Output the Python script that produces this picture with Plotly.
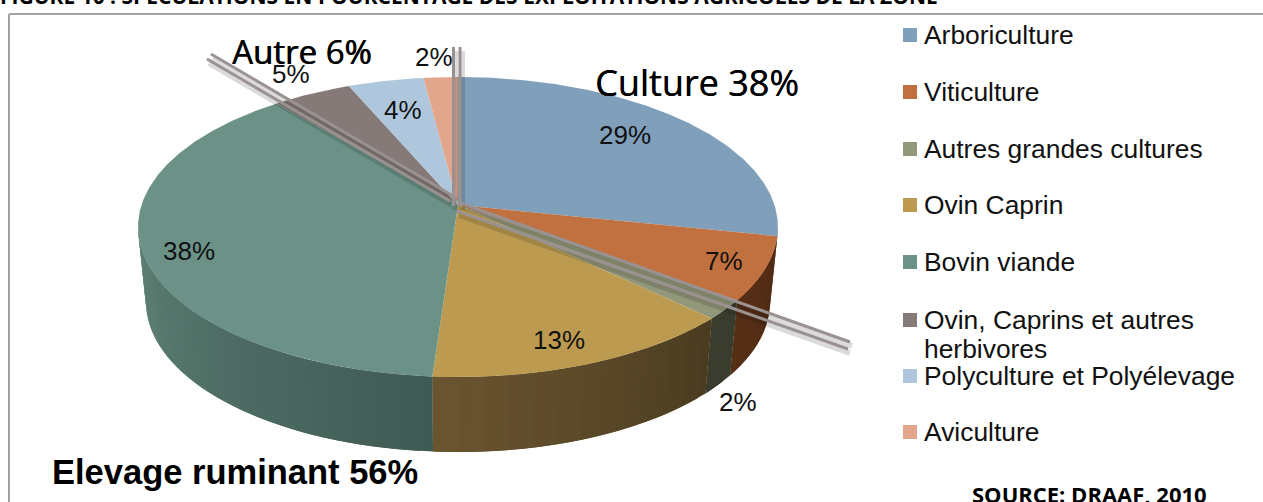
import numpy as np
import plotly.graph_objects as go

# ---- data ----
categories = ["Arboriculture", "Viticulture", "Autres grandes cultures", "Ovin Caprin",
              "Bovin viande", "Ovin, Caprins et autres<br>herbivores",
              "Polyculture et Polyélevage", "Aviculture"]
values = [28.3, 6.8, 2.1, 13.9, 37.9, 4.6, 4.4, 2.0]
value_labels = ["29%", "7%", "2%", "13%", "38%", "5%", "4%", "2%"]
top_colors = ["#7f9fbb", "#c1703f", "#92987a", "#bc9b50", "#6c9288", "#857a77", "#afc7dd", "#e2a68d"]
side_from = ["#4f2b14", "#4f2b14", "#3a3d2e", "#4a3c20", "#3f5a54", "#5c7d73", "#5c7d73", "#5c7d73"]
side_to = ["#4f2b14", "#572f15", "#3a3d2e", "#6b5530", "#5f8277", "#5c7d73", "#5c7d73", "#5c7d73"]

# ---- layout constants (pixels of the page) ----
W, H = 1263, 502
X0, Y0, A, B, K = 458.0, 205.0, 316.5, 146.8, 0.147
DEPTH, BOTTOM_SCALE = 75.0, 0.975
TANGENT = np.degrees(np.arccos(-K))
label_pos = [(625, 135), (724, 261), (738, 402), (559, 340), (189, 251), (291, 74), (403, 110), (434, 57)]
legend_y = [35, 92, 149, 205, 262, 320, 376, 432]
SANS = "Liberation Sans"
HUMAN = "Open Sans"


def project(theta_deg):
    t = np.radians(np.asarray(theta_deg, dtype=float))
    s = 1.0 / (1.0 + K * np.cos(t))
    return X0 + A * np.sin(t) * s, Y0 - B * np.cos(t) * s


def mix(c1, c2, f):
    a = [int(c1[i:i + 2], 16) for i in (1, 3, 5)]
    b = [int(c2[i:i + 2], 16) for i in (1, 3, 5)]
    return "#" + "".join(f"{round(p + (q - p) * f):02x}" for p, q in zip(a, b))


edges = np.concatenate([[0.0], np.cumsum(values)]) * 360.0 / sum(values)

fig = go.Figure()


def poly(x, y, color):
    fig.add_trace(go.Scatter(x=list(x), y=list(y), mode="lines", fill="toself", fillcolor=color,
                             line=dict(width=0), hoverinfo="skip", showlegend=False))


# side wall, in overlapping narrow bands so that it shades without seams
for i, (a0, a1) in enumerate(zip(edges[:-1], edges[1:])):
    lo, hi = max(a0, TANGENT), min(a1, 360 - TANGENT)
    if hi <= lo:
        continue
    n = max(1, int((hi - lo) / 2))
    steps = np.linspace(lo, hi, n + 1)
    for j in range(n):
        th = np.linspace(steps[j], steps[min(j + 2, n)], 5)
        x, y = project(th)
        xb = X0 + (x - X0) * BOTTOM_SCALE
        yb = y + DEPTH
        poly(np.r_[x, xb[::-1]], np.r_[y, yb[::-1]], mix(side_from[i], side_to[i], (j + 0.5) / n))

# top face
for i, (a0, a1) in enumerate(zip(edges[:-1], edges[1:])):
    th = np.linspace(a0, a1, max(3, int(a1 - a0) * 2))
    x, y = project(th)
    poly(np.r_[X0, x, X0], np.r_[Y0, y, Y0], top_colors[i])

# legend keys and texts
fig.add_trace(go.Scatter(
    x=[910] * len(categories), y=legend_y, mode="markers",
    marker=dict(symbol="square", size=14, color=top_colors, line=dict(width=0)),
    hoverinfo="skip", showlegend=False))

annotations = []


def note(x, y, text, size, family=SANS, color="#000000", bold=False, xanchor="center", shadow=None, yshift=0):
    font = dict(family=family, size=size, color=color, weight="bold" if bold else "normal")
    if shadow:
        font["shadow"] = shadow
    annotations.append(dict(x=x, y=y, xref="x", yref="y", text=text, showarrow=False, font=font,
                            xanchor=xanchor, yanchor="middle", align="left", borderpad=0, borderwidth=0,
                            yshift=yshift))


for lab, (x, y) in zip(value_labels, label_pos):
    note(x, y, lab, 26, color="#111111")
for cat, y in zip(categories, legend_y):
    for k, line in enumerate(cat.split("<br>")):
        note(923.5, y + 29 * k, line, 26.4, color="#111111", xanchor="left")

note(697, 82, "Culture 38%", 36, HUMAN, shadow="0.4px 0 0 #000")
note(302, 51, "Autre 6%", 33, HUMAN, shadow="0.6px 0 0 #000")
note(235, 472, "Elevage ruminant 56%", 34.5, SANS, bold=True)
note(1089, 494, "SOURCE: DRAAF, 2010", 22, HUMAN, bold=True)
note(0, 0, "FIGURE 10 : SPECULATIONS EN POURCENTAGE DES EXPLOITATIONS AGRICOLES DE LA ZONE", 21,
     HUMAN, bold=True, xanchor="left", yshift=4)

shapes = [
    dict(type="line", x0=9, x1=9, y0=14, y1=H, line=dict(color="#a3a3a3", width=2)),
    dict(type="line", x0=9, x1=W, y0=14, y1=14, line=dict(color="#a3a3a3", width=2)),
]
double_lines = [
    ((211, 54), (455, 197)), ((207, 59), (450, 201)),
    ((453.5, 47), (453.5, 206)), ((460, 47), (460, 206)),
    ((460, 203), (850, 342)), ((457, 211), (848, 349)),
]
for (xa, ya), (xb, yb) in double_lines:
    shapes.append(dict(type="line", x0=xa + 2, y0=ya + 4, x1=xb + 2, y1=yb + 4,
                       line=dict(color="rgba(0,0,0,0.14)", width=6)))
for (xa, ya), (xb, yb) in double_lines:
    shapes.append(dict(type="line", x0=xa, y0=ya, x1=xb, y1=yb, line=dict(color="#9a9291", width=3)))

fig.update_layout(
    width=W, height=H, margin=dict(l=0, r=0, t=0, b=0), autosize=False,
    paper_bgcolor="white", plot_bgcolor="white", showlegend=False,
    xaxis=dict(range=[0, W], visible=False, fixedrange=True),
    yaxis=dict(range=[H, 0], visible=False, fixedrange=True),
    shapes=shapes, annotations=annotations,
)
fig.write_html("out.html", config=dict(displayModeBar=False),
               post_script="document.body.style.margin='0';document.body.style.overflow='hidden';")
